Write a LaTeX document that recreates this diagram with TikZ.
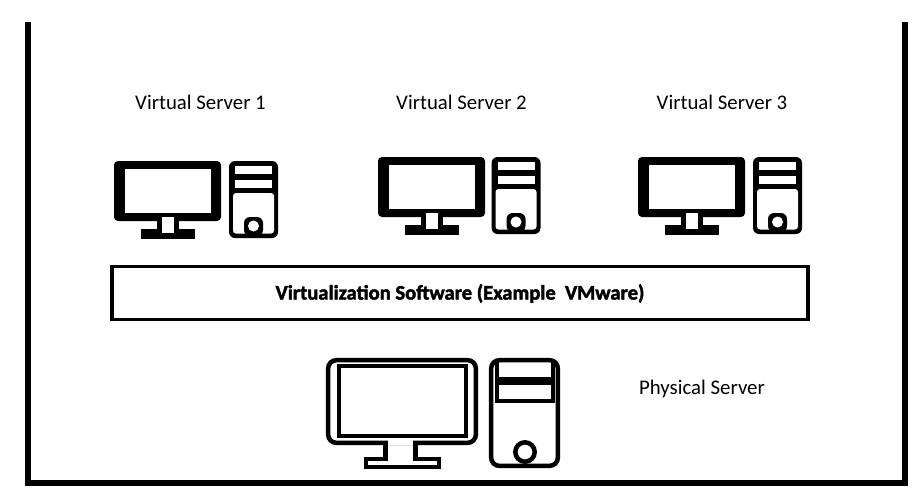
\documentclass[tikz,border=0pt]{standalone}
\usepackage{fontspec}
\setmainfont{Carlito}
\newfontfamily\heavyfont[BoldFeatures={FakeBold=2}]{Carlito}
\tikzset{
  x=1pt,y=-1pt,
  frameline/.style={line width=6pt,black,line join=miter},
  barbox/.style={draw=black,line width=3.5pt,fill=white,minimum width=696pt,minimum height=53pt,inner sep=0pt},
  lbl/.style={font=\fontsize{20.8pt}{24pt}\selectfont,inner sep=0pt,text=black},
  barlbl/.style={font=\fontsize{20.6pt}{24pt}\selectfont\heavyfont\bfseries,inner sep=0pt,text=black},
  phys/.style={line width=4.5pt,black}
}
% small computer: #1 monitor x offset, #2 tower x offset, #3 y offset
\newcommand{\smallpc}[3]{
  \begin{scope}[shift={(#1,#3)}]
    \fill[rounded corners=4pt] (114,161) rectangle (221,221);
    \fill[white] (125,169) rectangle (211,213);
    \fill (157,221) rectangle (179,231);
    \fill (141,229) rectangle (195,239);
    \fill[white] (162,217) rectangle (174,233);
  \end{scope}
  \begin{scope}[shift={(#2,#3)}]
    \fill[rounded corners=6pt] (229,161) rectangle (278,238);
    \fill[white,rounded corners=3pt] (233,193) rectangle (274,233.5);
    \fill[white] (235,166) rectangle (272,174);
    \fill[white] (235,180) rectangle (272,188);
    \fill[rounded corners=6pt] (244,217) rectangle (263,236);
    \fill[white] (253.5,226) circle (5.5);
  \end{scope}
}
\begin{document}
\begin{tikzpicture}
\useasboundingbox (0,0) rectangle (920,493);
\fill[white] (0,0) rectangle (920,493);
\coordinate (fa) at (28,22);
\coordinate (fb) at (28,483);
\coordinate (fc) at (905,483);
\coordinate (fd) at (905,22);
\draw[frameline] (fa) -- (fb) -- (fc) -- (fd);

\node[lbl] (v1) at (200.5,102.5) {Virtual Server 1};
\node[lbl] (v2) at (461.5,102.5) {Virtual Server 2};
\node[lbl] (v3) at (722,102.5) {Virtual Server 3};
\node[lbl] (ps) at (702,388.5) {Physical Server};

\smallpc{0}{0}{0}
\smallpc{264}{262.5}{-4}
\smallpc{524}{524}{-4}

\node[barbox] (bar) at (460,293) {};
\node[barlbl] (bt) at (460,293.5) {Virtualization Software (Example\ \ VMware)};

% physical computer
\draw[phys,rounded corners=8pt] (328.2,360.2) rectangle (475.8,442.8);
\draw[phys] (339.2,366.2) rectangle (465.8,435.8);
\draw[phys,line join=miter] (385.5,442.8) -- (385.5,459.2) -- (366.2,459.2) -- (366.2,466.8) -- (438.8,466.8) -- (438.8,459.2) -- (415.5,459.2) -- (415.5,442.8);
\fill[white] (387.8,440) rectangle (413.2,445.1);
\draw[phys,rounded corners=8pt] (491.2,360.2) rectangle (557.8,465.8);
\draw[phys] (497.2,360.2) -- (497.2,400.8) -- (553,400.8) -- (553,360.2);
\draw[line width=8pt] (497,381) -- (553,381);
\draw[phys] (525,452) circle (9.7);
\end{tikzpicture}
\end{document}
